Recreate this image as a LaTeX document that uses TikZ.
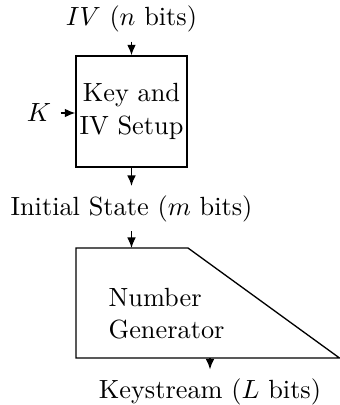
\documentclass[tikz,border=0pt]{standalone}
\usepackage{tikz}
\usetikzlibrary{arrows.meta}

\begin{document}
\begin{tikzpicture}[x=0.38pt,y=0.38pt,yscale=-1,xscale=1,>={Latex[length=4pt,width=3.3pt]},line width=0.5pt]
\useasboundingbox (0,0) rectangle (340,405);

%Shape: Square [Key and IV setup]
\node (setup) [draw, minimum width=42.2pt, minimum height=42.2pt, inner sep=0pt, align=center] at (131.5,111.5) {Key and\\[0.6pt]IV Setup};
%Shape: Trapezoid [number generator]
\coordinate (gentl) at (76,248);
\coordinate (gentr) at (188,248);
\coordinate (genbr) at (339.5,358);
\coordinate (genbl) at (76,358);
\draw (gentl) -- (gentr) -- (genbr) -- (genbl) -- cycle;
\coordinate (genin) at (131.5,248);
\coordinate (genout) at (210,358);

% Text Node
\node (gen) [anchor=north west, inner sep=0pt, align=left] at (108,288) {Number\\Generator};
% Text Node
\node (iv) at (131.5,19) {$IV$ ($n$ bits)};
% Text Node
\node (key) at (39,113) {$K$};
% Text Node
\node (state) at (131.5,208.5) {Initial State ($m$ bits)};
% Text Node
\node (stream) at (210,392) {Keystream ($L$ bits)};

%Straight Lines [arrows]
\draw [->] (iv) -- (setup);
\draw [->] (key.east) -- (key.east -| setup.west);
\draw [->] (setup) -- (state);
\draw [->] (state) -- (genin);
\draw [->] (genout) -- (stream);

\end{tikzpicture}
\end{document}
